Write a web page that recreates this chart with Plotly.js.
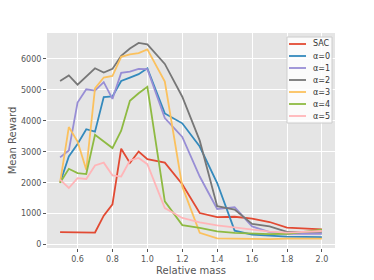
<!DOCTYPE html>
<html>
<head>
<meta charset="utf-8">
<script src="https://cdn.plot.ly/plotly-3.0.1.min.js"></script>
<style>html,body{margin:0;padding:0;background:#fff;}#chart{width:374px;height:280px;}</style>
</head>
<body>
<div id="chart"></div>
<script>
const mass = [0.5, 0.55, 0.6, 0.65, 0.7, 0.75, 0.8, 0.85, 0.9, 0.95, 1.0, 1.1, 1.2, 1.3, 1.4, 1.5, 1.6, 1.7, 1.8, 2.0];
const seriesNames = ["SAC", "α=0", "α=1", "α=2", "α=3", "α=4", "α=5"];
const sac    = [400, 400, 400, 400, 390, 935, 1300, 3100, 2640, 3010, 2760, 2650, 1950, 1020, 890, 900, 840, 730, 550, 490];
const alpha0 = [2000, 2850, 3250, 3730, 3650, 4770, 4790, 5290, 5400, 5510, 5700, 4240, 3920, 3170, 1990, 450, 320, 280, 260, 240];
const alpha1 = [2820, 3040, 4590, 5020, 4980, 5250, 4710, 5550, 5590, 5680, 5670, 4090, 3480, 2200, 1150, 1210, 590, 400, 350, 350];
const alpha2 = [5290, 5470, 5170, 5420, 5700, 5560, 5680, 6100, 6340, 6520, 6470, 5840, 4780, 3360, 1240, 1130, 670, 590, 410, 410];
const alpha3 = [2000, 3800, 3330, 2420, 5050, 5400, 5450, 6070, 6150, 6190, 6310, 5270, 1880, 380, 200, 190, 180, 180, 190, 190];
const alpha4 = [2000, 2450, 2310, 2280, 3550, 3330, 3120, 3680, 4650, 4890, 5100, 1400, 630, 540, 430, 380, 360, 340, 350, 480];
const alpha5 = [2100, 1830, 2150, 2120, 2560, 2650, 2240, 2200, 2720, 2800, 2600, 1180, 860, 720, 620, 560, 500, 420, 390, 440];
const allSeries = [sac, alpha0, alpha1, alpha2, alpha3, alpha4, alpha5];
const colors = ["#E24A33", "#348ABD", "#988ED5", "#777777", "#FBC15E", "#8EBA42", "#FFB5B8"];
const xTicks = [0.6, 0.8, 1.0, 1.2, 1.4, 1.6, 1.8, 2.0];
const xTickText = ["0.6", "0.8", "1.0", "1.2", "1.4", "1.6", "1.8", "2.0"];
const yTicks = [0, 1000, 2000, 3000, 4000, 5000, 6000];

const traces = allSeries.map((s, i) => ({
  x: mass, y: s, type: "scatter", mode: "lines", name: seriesNames[i],
  line: {color: colors[i], width: 1.8}, showlegend: false
}));

// custom compact legend (matplotlib-like)
const shapes = [];
const annotations = [];
const lgLeft = 287, lgTop = 37, lgW = 45, step = 12;
shapes.push({type: "rect", xref: "paper", yref: "paper", layer: "above",
  x0: (lgLeft - 47) / 288, x1: (lgLeft + lgW - 47) / 288,
  y0: 1 - (lgTop + 86 - 33) / 215, y1: 1 - (lgTop - 33) / 215,
  fillcolor: "rgba(255,255,255,0.85)", line: {color: "#cccccc", width: 1}});
seriesNames.forEach((n, i) => {
  const yy = lgTop + 7 + i * step;
  const yp = 1 - (yy - 33) / 215;
  shapes.push({type: "line", xref: "paper", yref: "paper", layer: "above",
    x0: (lgLeft + 2 - 47) / 288, x1: (lgLeft + 19 - 47) / 288, y0: yp, y1: yp,
    line: {color: colors[i], width: 1.8}});
  annotations.push({xref: "paper", yref: "paper", x: (lgLeft + 24 - 47) / 288, y: yp,
    xanchor: "left", yanchor: "middle", showarrow: false, text: n,
    font: {family: "DejaVu Sans", size: 8, color: "#333333"}});
});

const layout = {
  width: 374, height: 280,
  margin: {l: 47, r: 39, t: 33, b: 32},
  paper_bgcolor: "#ffffff", plot_bgcolor: "#E5E5E5",
  font: {family: "DejaVu Sans", size: 8, color: "#555555"},
  showlegend: false,
  xaxis: {range: [0.425, 2.075], tickvals: xTicks, ticktext: xTickText,
    showgrid: true, gridcolor: "#ffffff", gridwidth: 1, zeroline: false, showline: false,
    ticks: "outside", ticklen: 3, tickcolor: "#555555", tickwidth: 1,
    tickfont: {size: 8, color: "#555555"},
    title: {text: "Relative mass", font: {size: 10, color: "#555555"}, standoff: 4}},
  yaxis: {range: [-110, 6840], tickvals: yTicks,
    showgrid: true, gridcolor: "#ffffff", gridwidth: 1, zeroline: false, showline: false,
    ticks: "outside", ticklen: 3, tickcolor: "#555555", tickwidth: 1,
    tickfont: {size: 8, color: "#555555"},
    title: {text: "Mean Reward", font: {size: 10, color: "#555555"}, standoff: 2}},
  shapes: shapes, annotations: annotations
};
Plotly.newPlot("chart", traces, layout, {displayModeBar: false, staticPlot: true});
</script>
</body>
</html>
